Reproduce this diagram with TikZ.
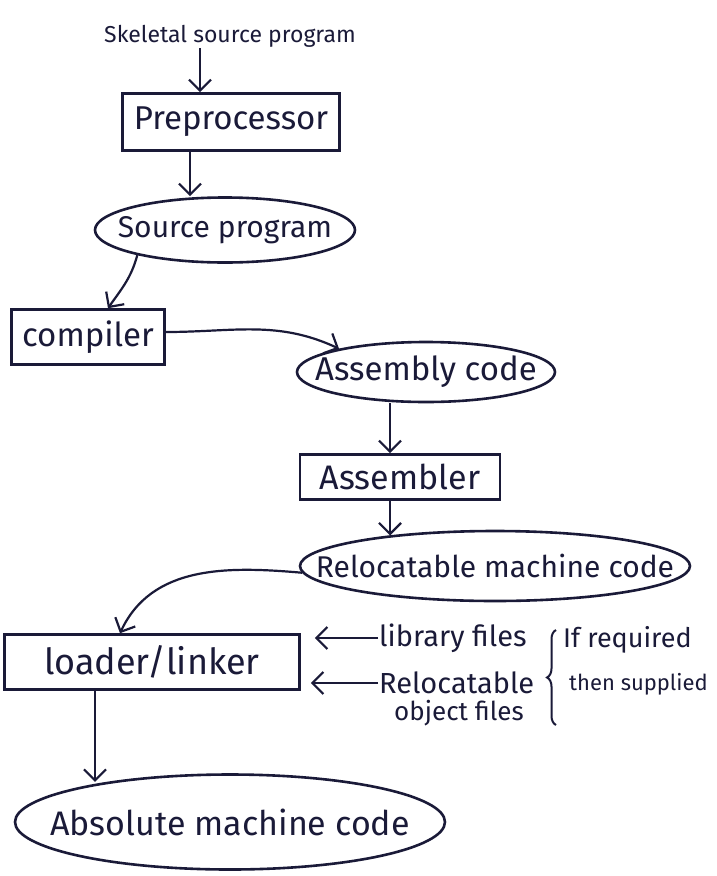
\documentclass[tikz,border=0pt]{standalone}
\usepackage{fontspec}
\setmainfont{Fira Sans}
\usetikzlibrary{shapes.geometric,arrows.meta,decorations.pathreplacing}
\definecolor{ink}{HTML}{1A1A38}
\newcommand{\lbl}[2]{{\fontsize{#1}{#1}\selectfont\makebox[0pt]{#2}}}
\tikzset{
  every node/.style={text=ink},
  txt/.style={inner sep=1pt},
  boxn/.style={draw=ink, line width=2.6pt, rectangle, inner sep=0pt},
  ellipn/.style={draw=ink, line width=2.6pt, ellipse, inner sep=0pt},
  arr/.style={draw=ink, line width=2.2pt, -{Straight Barb[length=11pt,width=22pt,line width=2.2pt]}}
}
\begin{document}
\begin{tikzpicture}[x=1pt,y=1pt]
\useasboundingbox[fill=white] (0,0) rectangle (716,-876);

\node[txt, font=\fontsize{23}{26}\selectfont] (skel) at (230,-36) {Skeletal source program};
\node[boxn, minimum width=217pt, minimum height=57pt] (pre) at (231,-122) {\lbl{33}{Preprocessor}};
\node[ellipn, minimum width=260pt, minimum height=65pt] (src) at (225,-230) {\lbl{30}{Source program}};
\node[boxn, minimum width=153pt, minimum height=55pt] (comp) at (88,-337) {\lbl{33}{compiler}};
\node[ellipn, minimum width=258pt, minimum height=60pt] (asm) at (426,-372) {\lbl{33}{Assembly code}};
\node[boxn, minimum width=200pt, minimum height=45pt] (asmr) at (400,-477) {\lbl{34}{Assembler}};
\node[ellipn, minimum width=390pt, minimum height=70pt] (reloc) at (495,-566) {\lbl{30}{Relocatable machine code}};
\node[boxn, minimum width=295pt, minimum height=55pt] (load) at (152,-662) {\lbl{36}{loader/linker}};
\node[ellipn, minimum width=430pt, minimum height=95pt] (abs) at (230,-822) {\lbl{34}{Absolute machine code}};

\node[txt, anchor=west, font=\fontsize{29}{32}\selectfont] (lib) at (378,-638) {library files};
\node[txt, anchor=west, font=\fontsize{29}{32}\selectfont] (relA) at (378,-683) {Relocatable};
\node[txt, anchor=west, font=\fontsize{26}{30}\selectfont] (relB) at (393,-713) {object files};
\node[txt, anchor=west, font=\fontsize{27}{30}\selectfont] (ifr) at (562,-640) {If required};
\node[txt, anchor=west, font=\fontsize{22}{26}\selectfont] (thn) at (568,-684) {then supplied};
\draw[ink, line width=2pt, decoration={brace, amplitude=9pt}, decorate] (556,-725) -- (556,-630);

\coordinate (ad) at ([xshift=-10pt]asmr.south);
\draw[arr] ([xshift=-30pt]skel.south) -- ([xshift=-31pt]pre.north);
\draw[arr] ([xshift=-41pt]pre.south) -- ([xshift=-35pt]src.north);
\draw[arr] (src.196) to[out=255,in=55] ([xshift=20pt]comp.north);
\draw[arr] ([yshift=5pt]comp.east) to[out=0,in=155] (asm.165);
\draw[arr] ([xshift=-36pt]asm.south) -- ([xshift=-10pt]asmr.north);
\draw[arr] (ad) -- (ad |- reloc.164);
\draw[arr] (reloc.182) to[out=175,in=65] ([xshift=-32pt]load.north);
\draw[arr, shorten >=14pt] (lib.west) -- (lib.west -| load.east);
\draw[arr, shorten >=10pt] (relA.west) -- (relA.west -| load.east);
\draw[arr] ([xshift=-57pt]load.south) -- ([xshift=-57pt]load.south |- abs.162);
\end{tikzpicture}
\end{document}
